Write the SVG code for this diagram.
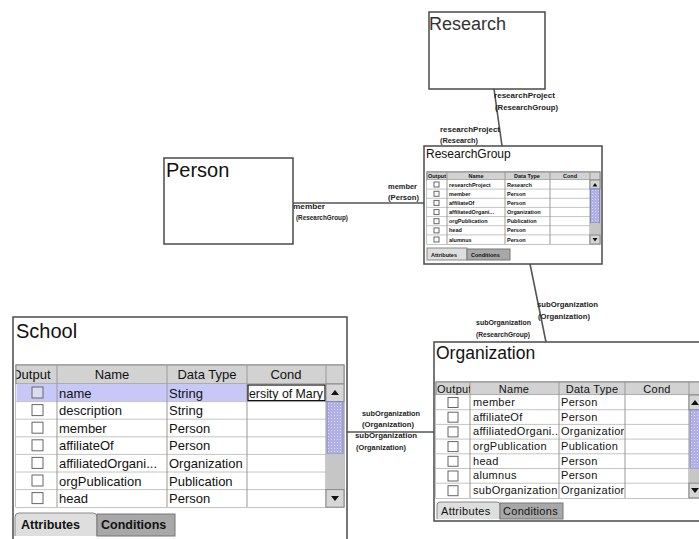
<svg xmlns="http://www.w3.org/2000/svg" width="699" height="539" viewBox="0 0 699 539">
<style>
text{font-family:"Liberation Sans",Arial,sans-serif;fill:#111}
.frame{fill:#fff;stroke:#4a4a4a;stroke-width:1.5}
.tbl{fill:#fff;stroke:#888;stroke-width:1}
.hdr{fill:#d2d2d2;stroke:#888;stroke-width:1}
.grid{stroke:#c4c4c4;stroke-width:1}
.vline{stroke:#999;stroke-width:1}
.cb{fill:#fff;stroke:#666;stroke-width:1}
.btn{fill:#d6d6d6;stroke:#888;stroke-width:1}
.thumb{fill:url(#dots);stroke:#8888bb;stroke-width:1}
.track{fill:#c6c6c6}
.tabA{fill:#dedede;stroke:#888;stroke-width:1}
.tabC{fill:#a8a8a8;stroke:#777;stroke-width:1}
.edge{stroke:#555;stroke-width:1.6;fill:none}
.lbl{font-size:8px;font-weight:bold;fill:#222}
.s13{font-size:13px}
.s11{font-size:11px;letter-spacing:0.3px}
.s5{font-size:5.5px;font-weight:bold}
.bold{font-weight:bold}
</style>
<defs>
<pattern id="dots" width="3" height="3" patternUnits="userSpaceOnUse">
<rect width="3" height="3" fill="#b0b0e4"/>
<rect x="1" y="1" width="1" height="1" fill="#d8d8f6"/>
</pattern>
<clipPath id="cS1"><rect x="16.5" y="365" width="40.5" height="19"/></clipPath>
<clipPath id="cS2"><rect x="248" y="384" width="77" height="17"/></clipPath>
<clipPath id="cO1"><rect x="436" y="382" width="34" height="13"/></clipPath>
<clipPath id="cO3"><rect x="559" y="395" width="65" height="104"/></clipPath>
<clipPath id="cR1"><rect x="427" y="172" width="20" height="8"/></clipPath>
</defs>

<g id="connectors">
<line class="edge" x1="494" y1="89" x2="502" y2="146"/>
<line class="edge" x1="293" y1="203" x2="424" y2="203"/>
<line class="edge" x1="530" y1="264" x2="546" y2="342"/>
<line class="edge" x1="347" y1="432" x2="434" y2="432"/>
<text class="lbl" x="494" y="98" textLength="61" lengthAdjust="spacingAndGlyphs">researchProject</text>
<text class="lbl" x="495" y="110" textLength="63" lengthAdjust="spacingAndGlyphs">(ResearchGroup)</text>
<text class="lbl" x="440" y="132" textLength="60" lengthAdjust="spacingAndGlyphs">researchProject</text>
<text class="lbl" x="440" y="143" textLength="38" lengthAdjust="spacingAndGlyphs">(Research)</text>
<text class="lbl" x="388" y="189" textLength="29" lengthAdjust="spacingAndGlyphs">member</text>
<text class="lbl" x="388" y="200" textLength="31" lengthAdjust="spacingAndGlyphs">(Person)</text>
<text class="lbl" x="293" y="209" textLength="32" lengthAdjust="spacingAndGlyphs">member</text>
<text class="lbl" x="296" y="220" textLength="52" lengthAdjust="spacingAndGlyphs">(ResearchGroup)</text>
<text class="lbl" x="537" y="307" textLength="61" lengthAdjust="spacingAndGlyphs">subOrganization</text>
<text class="lbl" x="538" y="319" textLength="52" lengthAdjust="spacingAndGlyphs">(Organization)</text>
<text class="lbl" x="476" y="325" textLength="55" lengthAdjust="spacingAndGlyphs">subOrganization</text>
<text class="lbl" x="476" y="337" textLength="54" lengthAdjust="spacingAndGlyphs">(ResearchGroup)</text>
<text class="lbl" x="362" y="416" textLength="58" lengthAdjust="spacingAndGlyphs">subOrganization</text>
<text class="lbl" x="362" y="427" textLength="52" lengthAdjust="spacingAndGlyphs">(Organization)</text>
<text class="lbl" x="355" y="438" textLength="62" lengthAdjust="spacingAndGlyphs">subOrganization</text>
<text class="lbl" x="356" y="450" textLength="50" lengthAdjust="spacingAndGlyphs">(Organization)</text>
</g>

<g id="research">
<rect class="frame" x="429" y="12" width="116" height="77"/>
<text x="429" y="30" style="font-size:18px;fill:#333">Research</text>
</g>

<g id="person">
<rect class="frame" x="164" y="158" width="129" height="86"/>
<text x="166" y="177" style="font-size:20px">Person</text>
</g>

<g id="researchgroup">
<rect class="frame" x="424" y="146" width="178" height="118"/>
<text x="426" y="158" style="font-size:12px">ResearchGroup</text>
<rect class="tbl" x="427" y="172" width="173" height="72"/>
<rect class="hdr" x="427" y="172" width="173" height="8"/>
<rect x="427" y="180" width="163" height="64" fill="#fff"/>
<g class="grid">
<line x1="427" y1="189.1" x2="590" y2="189.1"/><line x1="427" y1="198.3" x2="590" y2="198.3"/>
<line x1="427" y1="207.4" x2="590" y2="207.4"/><line x1="427" y1="216.6" x2="590" y2="216.6"/>
<line x1="427" y1="225.7" x2="590" y2="225.7"/><line x1="427" y1="234.9" x2="590" y2="234.9"/>
</g>
<g class="vline">
<line x1="447" y1="172" x2="447" y2="244"/><line x1="505" y1="172" x2="505" y2="244"/>
<line x1="550" y1="172" x2="550" y2="244"/><line x1="590" y1="172" x2="590" y2="244"/>
</g>
<g clip-path="url(#cR1)"><text class="s5" x="437" y="178" text-anchor="middle">Output</text></g>
<text class="s5" x="476" y="178" text-anchor="middle">Name</text>
<text class="s5" x="527" y="178" text-anchor="middle">Data Type</text>
<text class="s5" x="570" y="178" text-anchor="middle">Cond</text>
<g class="cb">
<rect x="434" y="182" width="5" height="5"/><rect x="434" y="191.3" width="5" height="5"/>
<rect x="434" y="200.4" width="5" height="5"/><rect x="434" y="209.6" width="5" height="5"/>
<rect x="434" y="218.7" width="5" height="5"/><rect x="434" y="227.9" width="5" height="5"/>
<rect x="434" y="237" width="5" height="5"/>
</g>
<g class="s5">
<text class="s5" x="449" y="187">researchProject</text><text class="s5" x="507" y="187">Research</text>
<text class="s5" x="449" y="196">member</text><text class="s5" x="507" y="196">Person</text>
<text class="s5" x="449" y="205">affiliateOf</text><text class="s5" x="507" y="205">Person</text>
<text class="s5" x="449" y="214">affiliatedOrgani...</text><text class="s5" x="507" y="214">Organization</text>
<text class="s5" x="449" y="223">orgPublication</text><text class="s5" x="507" y="223">Publication</text>
<text class="s5" x="449" y="232">head</text><text class="s5" x="507" y="232">Person</text>
<text class="s5" x="449" y="242">alumnus</text><text class="s5" x="507" y="242">Person</text>
</g>
<rect class="btn" x="590" y="180" width="10" height="9"/>
<polygon points="592.5,186.5 597.5,186.5 595,183" fill="#111"/>
<rect class="thumb" x="590.5" y="189" width="9" height="34"/>
<rect class="track" x="590.5" y="223" width="9" height="12"/>
<rect class="btn" x="590" y="235" width="10" height="9"/>
<polygon points="592.5,238 597.5,238 595,241.5" fill="#111"/>
<rect class="tabA" x="427" y="248" width="40" height="12"/>
<rect class="tabC" x="467" y="249" width="43" height="11"/>
<text class="s5" x="431" y="256.5">Attributes</text>
<text class="s5" x="471" y="256.5">Conditions</text>
</g>

<g id="school">
<rect class="frame" x="13" y="317" width="334" height="230"/>
<text x="16" y="338" style="font-size:20px">School</text>
<rect class="tbl" x="16" y="365" width="328" height="142"/>
<rect class="hdr" x="16" y="365" width="328" height="19"/>
<rect x="16" y="384" width="310" height="123" fill="#fff"/>
<rect x="16.5" y="384" width="231" height="17.6" fill="#c8c8f8"/>
<g class="grid">
<line x1="16" y1="401.6" x2="326" y2="401.6"/><line x1="16" y1="419.2" x2="326" y2="419.2"/>
<line x1="16" y1="436.8" x2="326" y2="436.8"/><line x1="16" y1="454.4" x2="326" y2="454.4"/>
<line x1="16" y1="472" x2="326" y2="472"/><line x1="16" y1="489.6" x2="326" y2="489.6"/>
</g>
<g class="vline">
<line x1="57" y1="365" x2="57" y2="507"/><line x1="167" y1="365" x2="167" y2="507"/>
<line x1="247" y1="365" x2="247" y2="507"/><line x1="326" y1="365" x2="326" y2="507"/>
</g>
<g clip-path="url(#cS1)"><text class="s13" x="11.5" y="379">Output</text></g>
<text class="s13" x="112" y="379" text-anchor="middle">Name</text>
<text class="s13" x="207" y="379" text-anchor="middle">Data Type</text>
<text class="s13" x="286" y="379" text-anchor="middle">Cond</text>
<g class="cb">
<rect x="32" y="387" width="11" height="11" style="fill:#dcdcf0"/><rect x="32" y="404.6" width="11" height="11"/>
<rect x="32" y="422.2" width="11" height="11"/><rect x="32" y="439.8" width="11" height="11"/>
<rect x="32" y="457.4" width="11" height="11"/><rect x="32" y="475" width="11" height="11"/>
<rect x="32" y="492.6" width="11" height="11"/>
</g>
<text class="s13" x="59" y="397.5">name</text><text class="s13" x="169" y="397.5">String</text>
<text class="s13" x="59" y="415">description</text><text class="s13" x="169" y="415">String</text>
<text class="s13" x="59" y="432.5">member</text><text class="s13" x="169" y="432.5">Person</text>
<text class="s13" x="59" y="450">affiliateOf</text><text class="s13" x="169" y="450">Person</text>
<text class="s13" x="59" y="468">affiliatedOrgani...</text><text class="s13" x="169" y="468">Organization</text>
<text class="s13" x="59" y="485.5">orgPublication</text><text class="s13" x="169" y="485.5">Publication</text>
<text class="s13" x="59" y="503">head</text><text class="s13" x="169" y="503">Person</text>
<rect x="248" y="385" width="77" height="15.6" fill="#fff" stroke="#111" stroke-width="1.2"/>
<g clip-path="url(#cS2)"><text class="s13" x="249" y="397.5" textLength="74" lengthAdjust="spacingAndGlyphs">ersity of Mary</text></g>
<rect class="btn" x="326" y="384" width="18" height="17.6"/>
<polygon points="331,395 339,395 335,390" fill="#111"/>
<rect class="thumb" x="327" y="401.6" width="16" height="52"/>
<rect class="track" x="326.5" y="453.6" width="17" height="36"/>
<rect class="btn" x="326" y="489.6" width="18" height="17.6"/>
<polygon points="331,496 339,496 335,501" fill="#111"/>
<path class="tabA" d="M15,536 V517 Q15,513 19,513 H93 Q97,513 97,517 V536"/>
<rect class="tabC" x="97" y="514" width="78" height="22"/>
<text class="bold" x="21" y="529" style="font-size:12.5px">Attributes</text>
<text class="bold" x="101" y="529" style="font-size:12.5px">Conditions</text>
</g>

<g id="organization">
<rect class="frame" x="434" y="342" width="280" height="179"/>
<text x="436" y="359" style="font-size:17.5px">Organization</text>
<rect class="tbl" x="436" y="382" width="270" height="116"/>
<rect class="hdr" x="436" y="382" width="270" height="13"/>
<rect x="436" y="395" width="253" height="103" fill="#fff"/>
<g class="grid">
<line x1="436" y1="409.7" x2="689" y2="409.7"/><line x1="436" y1="424.4" x2="689" y2="424.4"/>
<line x1="436" y1="439.1" x2="689" y2="439.1"/><line x1="436" y1="453.8" x2="689" y2="453.8"/>
<line x1="436" y1="468.5" x2="689" y2="468.5"/><line x1="436" y1="483.2" x2="689" y2="483.2"/>
</g>
<g class="vline">
<line x1="470" y1="382" x2="470" y2="498"/><line x1="559" y1="382" x2="559" y2="498"/>
<line x1="625" y1="382" x2="625" y2="498"/><line x1="689" y1="382" x2="689" y2="498"/>
</g>
<g clip-path="url(#cO1)"><text class="s11" x="437" y="392.5">Output</text></g>
<text class="s11" x="514" y="392.5" text-anchor="middle">Name</text>
<text class="s11" x="592" y="392.5" text-anchor="middle">Data Type</text>
<text class="s11" x="657" y="392.5" text-anchor="middle">Cond</text>
<g class="cb">
<rect x="448" y="397.5" width="10" height="10"/><rect x="448" y="412.2" width="10" height="10"/>
<rect x="448" y="426.9" width="10" height="10"/><rect x="448" y="441.6" width="10" height="10"/>
<rect x="448" y="456.3" width="10" height="10"/><rect x="448" y="471" width="10" height="10"/>
<rect x="448" y="485.7" width="10" height="10"/>
</g>
<text class="s11" x="473" y="406">member</text>
<text class="s11" x="473" y="420.5">affiliateOf</text>
<text class="s11" x="473" y="435.2">affiliatedOrgani..</text>
<text class="s11" x="473" y="450">orgPublication</text>
<text class="s11" x="473" y="464.6">head</text>
<text class="s11" x="473" y="479.3">alumnus</text>
<text class="s11" x="473" y="494">subOrganization</text>
<g clip-path="url(#cO3)">
<text class="s11" x="561" y="406">Person</text>
<text class="s11" x="561" y="420.5">Person</text>
<text class="s11" x="561" y="435.2">Organization</text>
<text class="s11" x="561" y="450">Publication</text>
<text class="s11" x="561" y="464.6">Person</text>
<text class="s11" x="561" y="479.3">Person</text>
<text class="s11" x="561" y="494">Organization</text>
</g>
<rect class="btn" x="689" y="395" width="17" height="14.7"/>
<polygon points="691,405 699,405 695,400" fill="#111"/>
<rect class="thumb" x="690" y="409.7" width="15" height="58.8"/>
<rect class="track" x="689.5" y="468.5" width="16" height="14.7"/>
<rect class="btn" x="689" y="483.2" width="17" height="14.7"/>
<polygon points="691,488 699,488 695,493" fill="#111"/>
<path class="tabA" d="M437,519 V505 Q437,502 440,502 H497 Q500,502 500,505 V519"/>
<rect class="tabC" x="500" y="503" width="63" height="16"/>
<text class="s11" x="441" y="514.5">Attributes</text>
<text class="s11" x="503" y="514.5">Conditions</text>
</g>
</svg>
